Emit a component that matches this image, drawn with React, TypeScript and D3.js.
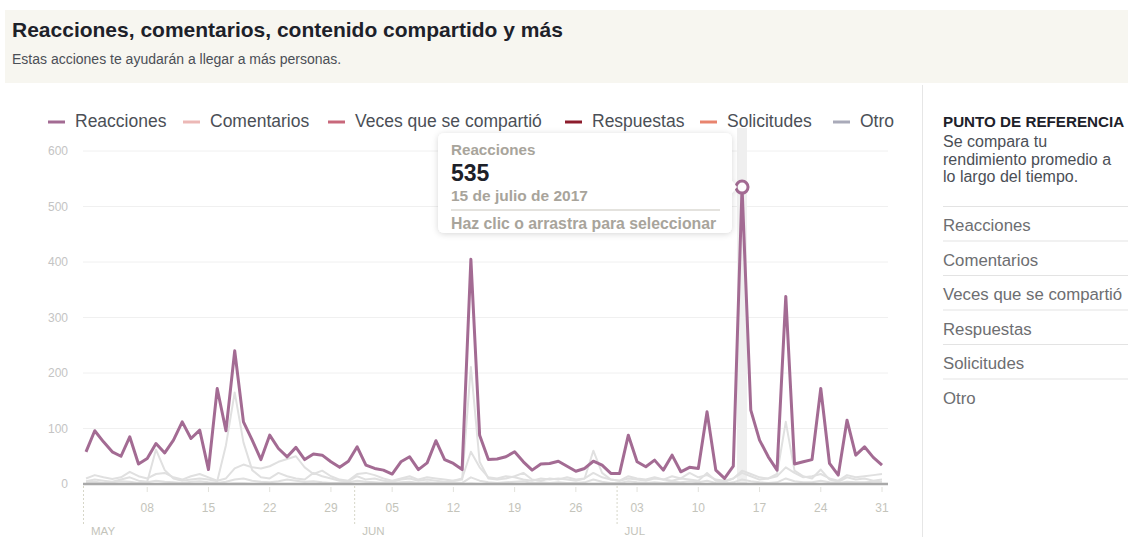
import React from "react";
import * as d3 from "d3";

const START_DATE = "2017-05-01";

const reacciones = [
  58, 96, 76, 58, 50, 85, 36, 46, 73, 56,
  79, 112, 82, 97, 26, 172, 96, 240, 112, 79,
  44, 88, 64, 49, 66, 44, 54, 52, 40, 30,
  41, 67, 34, 28, 25, 18, 40, 49, 26, 38,
  78, 44, 37, 26, 405, 88, 44, 45, 49, 58,
  40, 25, 36, 37, 41, 32, 23, 28, 41, 34,
  19, 19, 88, 40, 31, 43, 25, 52, 22, 30,
  28, 130, 25, 10, 32, 535, 133, 79, 49, 25,
  338, 36, 40, 44, 172, 37, 16, 115, 52, 67,
  48, 34,
];

const comentarios = [
  10, 16, 12, 9, 12, 22, 14, 10, 18, 20,
  12, 8, 14, 18, 12, 6, 10, 28, 35, 30,
  28, 32, 40, 45, 50, 30, 18, 24, 14, 8,
  6, 18, 20, 16, 10, 6, 10, 14, 8, 12,
  10, 8, 6, 10, 58, 30, 12, 10, 14, 12,
  8, 6, 10, 8, 10, 8, 6, 10, 20, 12,
  8, 6, 14, 10, 8, 12, 8, 14, 10, 20,
  12, 16, 8, 6, 10, 24, 18, 12, 10, 14,
  30, 20, 12, 14, 18, 10, 6, 16, 12, 14,
  16, 18,
];

const compartido = [
  5, 8, 6, 4, 8, 12, 6, 4, 62, 25,
  10, 6, 8, 10, 8, 5, 70, 165, 75, 25,
  12, 10, 20, 14, 10, 8, 20, 14, 10, 6,
  5, 14, 8, 10, 6, 4, 8, 10, 6, 8,
  6, 4, 6, 8, 211, 40, 10, 8, 10, 14,
  20, 8, 6, 10, 8, 12, 8, 10, 60, 20,
  8, 6, 10, 8, 6, 10, 8, 6, 10, 8,
  6, 20, 6, 4, 10, 20, 14, 8, 10, 18,
  112, 24, 14, 10, 26, 8, 4, 12, 8, 10,
  6, 8,
];

const respuestas = [
  0, 0, 0, 0, 0, 0, 0, 0, 0, 0,
  0, 0, 0, 0, 0, 0, 0, 1, 1, 0,
  0, 0, 0, 0, 0, 0, 0, 0, 0, 0,
  0, 0, 0, 0, 0, 0, 0, 0, 0, 0,
  0, 0, 0, 0, 1, 0, 0, 0, 0, 0,
  0, 0, 0, 0, 0, 0, 0, 0, 0, 0,
  0, 0, 0, 0, 0, 0, 0, 0, 0, 0,
  0, 0, 0, 0, 0, 1, 0, 0, 0, 0,
  1, 0, 0, 0, 0, 0, 0, 0, 0, 0,
  0, 0,
];

const solicitudes = [
  0, 0, 0, 0, 0, 0, 0, 0, 0, 0,
  0, 0, 0, 0, 0, 0, 0, 0, 0, 0,
  0, 0, 0, 0, 0, 0, 0, 0, 0, 0,
  0, 0, 0, 0, 0, 0, 0, 0, 0, 0,
  0, 0, 0, 0, 0, 0, 0, 0, 0, 0,
  0, 0, 0, 0, 0, 0, 0, 0, 0, 0,
  0, 0, 0, 0, 0, 0, 0, 0, 0, 0,
  0, 0, 0, 0, 0, 0, 0, 0, 0, 0,
  0, 0, 0, 0, 0, 0, 0, 0, 0, 0,
  0, 0,
];

const otro = [
  3, 4, 2, 3, 5, 4, 2, 3, 6, 4,
  3, 2, 4, 5, 3, 2, 4, 8, 10, 6,
  4, 3, 5, 8, 6, 4, 5, 3, 2, 2,
  3, 6, 4, 3, 2, 2, 3, 4, 2, 3,
  2, 2, 3, 2, 12, 6, 3, 2, 3, 4,
  5, 2, 3, 2, 3, 2, 2, 3, 8, 4,
  2, 2, 5, 3, 2, 3, 2, 4, 3, 5,
  3, 6, 2, 1, 3, 8, 5, 3, 2, 3,
  10, 5, 3, 3, 6, 3, 2, 4, 3, 3,
  4, 4,
];

const seriesNames = ["Reacciones", "Comentarios", "Veces que se compartió", "Respuestas", "Solicitudes", "Otro"];
const seriesColors = ["#a36b93", "#ecb8b6", "#c8687b", "#8c1c2c", "#e8846e", "#a9aab9"];
const yTicks = [0, 100, 200, 300, 400, 500, 600];
const monthLabels = ["MAY", "JUN", "JUL"];
const panelItems = ["Reacciones", "Comentarios", "Veces que se compartió", "Respuestas", "Solicitudes", "Otro"];
const panelDesc = ["Se compara tu", "rendimiento promedio a", "lo largo del tiempo."];
const tipSeries = "Reacciones";
const tipValue = 535;
const tipDate = "15 de julio de 2017";
const tipHint = "Haz clic o arrastra para seleccionar";
const title = "Reacciones, comentarios, contenido compartido y más";
const subtitle = "Estas acciones te ayudarán a llegar a más personas.";

const FONT = "'Liberation Sans', Arial, Helvetica, sans-serif";

export default function App() {
  const W = 1128, H = 537;
  const start = d3.timeParse("%Y-%m-%d")(START_DATE) as Date;
  const dates = reacciones.map((_, i) => d3.timeDay.offset(start, i));
  const end = dates[dates.length - 1];

  const x = d3.scaleTime().domain([start, end]).range([86, 882]);
  const y = d3.scaleLinear().domain([0, 600]).range([484, 151]);

  const line = d3
    .line<number>()
    .x((_, i) => x(dates[i]))
    .y((v) => y(v));

  const grayList = [comentarios, compartido, otro, respuestas, solicitudes];

  const weekTicks = d3.timeMonday.range(d3.timeDay.offset(start, 1), d3.timeDay.offset(end, 1));
  const monthStarts = d3.timeMonth.range(start, d3.timeDay.offset(end, 1));
  const fmtDay = d3.timeFormat("%d");

  const tipIdx = reacciones.indexOf(tipValue);
  const tx = x(dates[tipIdx]);
  const ty = y(tipValue);

  // legend layout (marker start positions)
  const legendX = [48, 183, 328, 565, 700, 833];

  return (
    <div>
      <style>{`body{margin:0;background:#fff}`}</style>
      <svg width={W} height={H} style={{ display: "block", fontFamily: FONT }}>
        <defs>
          <filter id="shadow" x="-20%" y="-30%" width="140%" height="160%">
            <feDropShadow dx="0" dy="1" stdDeviation="3" floodColor="#000" floodOpacity="0.16" />
          </filter>
        </defs>
        {/* header */}
        <rect x={5} y={10} width={W - 5} height={73} fill="#f7f6f0" />
        <text x={12} y={37} fontSize={21} fontWeight={600} fill="#1d2129">{title}</text>
        <text x={12} y={64} fontSize={14} fill="#4b4f56">{subtitle}</text>

        {/* right panel separator */}
        <line x1={922.5} x2={922.5} y1={85} y2={H} stroke="#e6e6e6" strokeWidth={1} />

        {/* legend */}
        {seriesNames.map((n, i) => (
          <g key={n}>
            <line x1={legendX[i]} x2={legendX[i] + 17} y1={122} y2={122} stroke={seriesColors[i]} strokeWidth={3} />
            <text x={legendX[i] + 27} y={127} fontSize={17.5} fill="#4b4f56">{n}</text>
          </g>
        ))}

        {/* grid */}
        {yTicks.map((t) => (
          <g key={t}>
            {t > 0 && <line x1={83} x2={888} y1={y(t)} y2={y(t)} stroke="#f0f0f0" strokeWidth={1} />}
            <text x={68} y={y(t) + 4} fontSize={12} fill="#c4c4c4" textAnchor="end">{t}</text>
          </g>
        ))}

        {/* hover band */}
        <rect x={tx - 5} y={128} width={10} height={y(0) - 128} fill="#efefef" />

        {/* month dashed lines */}
        {monthStarts.map((d, i) => (
          <g key={i}>
            <line x1={x(d) - 2.5} x2={x(d) - 2.5} y1={486} y2={524} stroke="#d6d6c8" strokeWidth={1} strokeDasharray="2,2" />
            <text x={x(d) + 5} y={535} fontSize={11.5} fill="#c4c4bb">{monthLabels[i]}</text>
          </g>
        ))}

        {/* week ticks */}
        {weekTicks.map((d, i) => (
          <g key={i}>
            <line x1={x(d)} x2={x(d)} y1={487} y2={492} stroke="#e2e2dc" strokeWidth={1} />
            <text x={x(d)} y={512} fontSize={12} fill="#c4c4bb" textAnchor="middle">{fmtDay(d)}</text>
          </g>
        ))}

        {/* gray series */}
        {grayList.map((s, i) => (
          <path key={i} d={line(s) || ""} fill="none" stroke="#e0e0e0" strokeWidth={2} strokeLinejoin="round" />
        ))}

        {/* baseline */}
        <line x1={83} x2={888} y1={y(0)} y2={y(0)} stroke="#a9a9a9" strokeWidth={2.5} />

        {/* highlighted series */}
        <path d={line(reacciones) || ""} fill="none" stroke={seriesColors[0]} strokeWidth={3} strokeLinejoin="round" />
        <circle cx={tx} cy={ty} r={6} fill="#fff" stroke={seriesColors[0]} strokeWidth={3} />

        {/* tooltip */}
        <g filter="url(#shadow)">
          <rect x={438} y={133} width={294} height={100} rx={6} fill="#fff" />
          <path d={`M732,${ty - 6} L737,${ty} L732,${ty + 6} Z`} fill="#fff" />
        </g>
        <text x={451} y={155} fontSize={15.2} fontWeight="bold" fill="#a8a49b">{tipSeries}</text>
        <text x={451} y={181} fontSize={23} fontWeight="bold" fill="#1d2129">{tipValue}</text>
        <text x={451} y={201} fontSize={15.5} fontWeight="bold" fill="#a8a49b">{tipDate}</text>
        <line x1={451} x2={720} y1={210} y2={210} stroke="#c9c6bd" strokeWidth={1} />
        <text x={451} y={229} fontSize={15.8} fontWeight="bold" fill="#a8a49b">{tipHint}</text>

        {/* right panel */}
        <text x={943} y={127} fontSize={15.2} fontWeight="bold" fill="#1d2129">PUNTO DE REFERENCIA</text>
        {panelDesc.map((t, i) => (
          <text key={i} x={943} y={147 + i * 17.5} fontSize={16} fill="#4b4f56">{t}</text>
        ))}
        {panelItems.map((t, i) => (
          <g key={t}>
            <line x1={943} x2={W} y1={206.5 + i * 34.5} y2={206.5 + i * 34.5} stroke="#e3e3e3" strokeWidth={1} />
            <text x={943} y={231 + i * 34.5} fontSize={16.8} fill="#6d6e71">{t}</text>
          </g>
        ))}
      </svg>
    </div>
  );
}
